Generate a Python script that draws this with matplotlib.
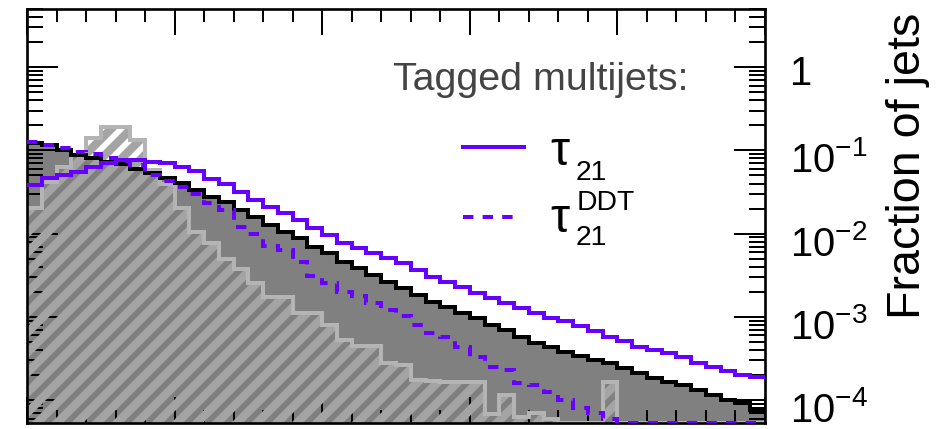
import numpy as np
import matplotlib
matplotlib.use('Agg')
import matplotlib.pyplot as plt
from matplotlib.lines import Line2D
from matplotlib.ticker import FixedLocator, FixedFormatter, LogLocator, NullFormatter, MultipleLocator
from matplotlib.transforms import ScaledTranslation

plt.rcParams['font.family'] = ['Liberation Sans', 'DejaVu Sans']
plt.rcParams['mathtext.fontset'] = 'custom'
plt.rcParams['mathtext.rm'] = 'Liberation Sans'
plt.rcParams['mathtext.it'] = 'Liberation Sans:italic'
plt.rcParams['mathtext.bf'] = 'Liberation Sans:bold'
plt.rcParams['hatch.linewidth'] = 5.0
plt.rcParams['axes.linewidth'] = 1.6

# ---- data (fraction of jets per bin, 50 bins) ----
bin_edges = np.arange(0, 255, 5)

all_multijets = [0.122, 0.116, 0.101, 0.0877, 0.0807, 0.0723, 0.0684, 0.0596, 0.0533, 0.0464,
                 0.0404, 0.0333, 0.0274, 0.0239, 0.0191, 0.0158, 0.01265, 0.0104, 0.00883, 0.00689,
                 0.00583, 0.00455, 0.00385, 0.00318, 0.00261, 0.00221, 0.00183, 0.00150, 0.00131, 0.00111,
                 0.000966, 0.000796, 0.000693, 0.000571, 0.000484, 0.000433, 0.000377, 0.000338, 0.000302, 0.000278,
                 0.000242, 0.000211, 0.000184, 0.000164, 0.000151, 0.000132, 0.000115, 0.000100, 0.0000920, 0.0000758]

tau21 = [0.0383, 0.0464, 0.0504, 0.0548, 0.0629, 0.0703, 0.0763, 0.0763, 0.0723, 0.0703,
         0.0629, 0.0563, 0.0451, 0.0393, 0.0315, 0.0253, 0.0208, 0.0176, 0.0145, 0.01164,
         0.00959, 0.00769, 0.00670, 0.00583, 0.00508, 0.00442, 0.00364, 0.00300, 0.00261, 0.00228,
         0.00193, 0.00168, 0.00146, 0.00127, 0.00111, 0.000966, 0.000889, 0.000774, 0.000674, 0.000571,
         0.000512, 0.000433, 0.000399, 0.000367, 0.000329, 0.000278, 0.000249, 0.000223, 0.000200, 0.000189]

tau21_ddt = [0.1256, 0.1156, 0.1064, 0.0953, 0.0901, 0.0807, 0.0743, 0.0665, 0.0504, 0.0427,
             0.0362, 0.0298, 0.0232, 0.0191, 0.01197, 0.00986, 0.00708, 0.00634, 0.00455, 0.00309,
             0.00254, 0.00198, 0.00177, 0.00146, 0.00121, 0.00102, 0.000796, 0.000638, 0.000571, 0.000433,
             0.000329, 0.000249, 0.000229, 0.000160, 0.000151, 0.000125, 0.000100, 0.0000801, 0.0000698, 0.0000591,
             0.0000529, 0, 0, 0, 0, 0, 0, 0, 0, 0]

hatched = [0.0202, 0.0416, 0.0629, 0.0877, 0.1403, 0.190, 0.190, 0.1328, 0.0579, 0.0393,
           0.0202, 0.0104, 0.00769, 0.00494, 0.00375, 0.00254, 0.00173, 0.00173, 0.00111, 0.00111,
           0.000796, 0.000526, 0.000446, 0.000446, 0.000278, 0.000263, 0.000174, 0.000169, 0.000164, 0.000164,
           0.000164, 0.0000679, 0.000115, 0.0000625, 0.0000698, 0.0000591, 0, 0, 0, 0.000164,
           0, 0, 0, 0, 0, 0, 0, 0, 0, 0]

ytick_vals = [1e-4, 1e-3, 1e-2, 1e-1, 1]
ytick_labels = [r'$\mathregular{10^{-4}}$', r'$\mathregular{10^{-3}}$', r'$\mathregular{10^{-2}}$',
                r'$\mathregular{10^{-1}}$', '1']

floor = 5.3e-5   # empty bins are drawn on the frame bottom, like ROOT does
purple = '#6600ff'
DPI = 120
W, H = 944, 429


def px(x, y):
    return x / W, 1 - y / H


fig = plt.figure(figsize=(W / DPI, H / DPI), dpi=DPI)
ax = fig.add_axes([27 / W, 6 / H, 738 / W, 414 / H])
ax.set_yscale('log')

ax.stairs(all_multijets, bin_edges, baseline=1e-7, fill=True, facecolor='#808080', linewidth=0, zorder=1)
hv = np.maximum(hatched, floor)
hp = ax.stairs(hv, bin_edges, baseline=1e-7, fill=True, facecolor='none', edgecolor='#a4a4a4',
               hatch='//', linewidth=0, zorder=2)
if hasattr(hp, 'set_hatch_linewidth'):
    hp.set_hatch_linewidth(5.0)
ax.stairs(hv, bin_edges, baseline=None, color='#b4b4b4', linewidth=2.4, zorder=2.5)
ax.stairs(all_multijets, bin_edges, baseline=None, color='black', linewidth=2.4, zorder=3)
ax.stairs(tau21, bin_edges, baseline=None, color=purple, linewidth=2.4, zorder=4)
ax.stairs(np.maximum(tau21_ddt, floor), bin_edges, baseline=None, color=purple, linewidth=2.4,
          linestyle=(0, (2.6, 2.3)), zorder=4)

ax.set_xlim(bin_edges[0], bin_edges[-1])
ax.set_ylim(floor, 5.0)

ax.xaxis.set_major_locator(MultipleLocator(50))
ax.xaxis.set_minor_locator(MultipleLocator(10))
ax.yaxis.set_major_locator(FixedLocator(ytick_vals))
ax.yaxis.set_major_formatter(FixedFormatter(ytick_labels))
ax.yaxis.set_minor_locator(LogLocator(base=10, subs=np.arange(2, 10)))
ax.yaxis.set_minor_formatter(NullFormatter())

ax.tick_params(axis='both', which='both', direction='in', width=1.2, colors='black',
               top=True, bottom=True, left=True, right=True,
               labelbottom=False, labeltop=False, labelleft=False)
ax.tick_params(axis='x', which='major', length=15.6)
ax.tick_params(axis='x', which='minor', length=7.8)
ax.tick_params(axis='y', which='major', length=18.6, labelright=True, labelsize=24, pad=15)
ax.tick_params(axis='y', which='minor', length=9.6)

for t, v in zip(ax.yaxis.get_major_ticks(), ytick_vals):
    dy = 18 if v == 1 else 22
    t.label2.set_va('baseline')
    t.label2.set_transform(t.label2.get_transform()
                           + ScaledTranslation(0, -dy / DPI, fig.dpi_scale_trans))

fig.text(*px(908, 13), 'Fraction of jets', rotation=90, ha='center', va='top', fontsize=28)

# legend block
fig.text(*px(393, 90), 'Tagged multijets:', fontsize=23.6, color='#444444', ha='left', va='baseline')
fig.add_artist(Line2D([463 / W, 524 / W], [1 - 147 / H] * 2, color=purple, linewidth=2.4))
fig.add_artist(Line2D([463 / W, 518 / W], [1 - 217 / H] * 2, color=purple, linewidth=2.4,
                      linestyle=(0, (2.6, 2.3))))
fig.text(*px(550, 165), '\u03c4', fontsize=29, ha='left', va='baseline')
fig.text(*px(576, 180), '21', fontsize=17, ha='left', va='baseline')
fig.text(*px(550, 232), '\u03c4', fontsize=29, ha='left', va='baseline')
fig.text(*px(577, 210), 'DDT', fontsize=17, ha='left', va='baseline')
fig.text(*px(576, 245), '21', fontsize=17, ha='left', va='baseline')

fig.savefig('out.png', dpi=DPI)
